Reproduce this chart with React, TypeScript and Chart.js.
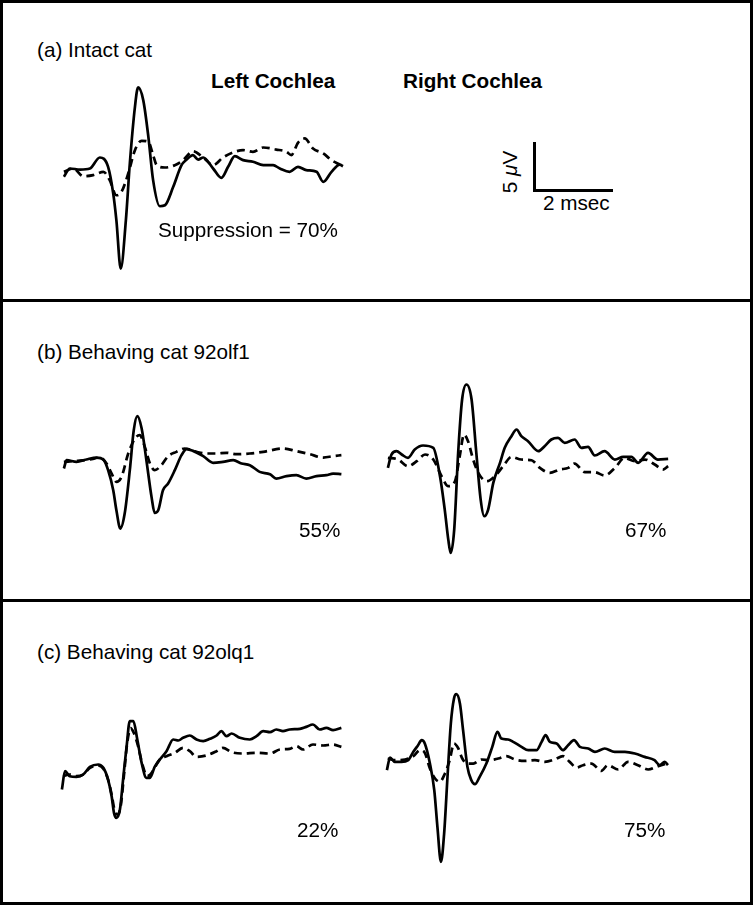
import React, { useEffect, useRef } from "react";
import { Chart, registerables } from "chart.js";

Chart.register(...registerables);

// ---- Data: time (ms) and voltage (µV) ----
// (a) Intact cat, left cochlea
const aSolidT = [0, 0.15, 0.41, 0.66, 0.91, 1.12, 1.25, 1.33, 1.44, 1.57, 1.67, 1.8, 1.88, 2.01, 2.14, 2.26, 2.43, 2.56, 2.77, 2.98, 3.11, 3.27, 3.4, 3.53, 3.78, 3.99, 4.16, 4.33, 4.54, 4.79, 5.05, 5.3, 5.47, 5.72, 5.93, 6.14, 6.4, 6.57, 6.78, 6.99, 7.07];
const aSolidV = [-0.88, -0.03, -0.14, -0.03, 1.09, 0.14, -2.59, -5.31, -10.24, -5.31, 0.48, 6.26, 8.23, 6.94, 3.2, -1.22, -3.88, -3.78, -1.9, 0.31, 0.88, 1.33, 0.88, 1.09, -0.03, -0.99, 0.14, 1.22, 0.82, 0.65, 0.31, 0.31, -0.03, -0.37, 0.14, -0.2, -0.37, -1.39, -0.37, 0.37, 0.2];
const aDashT = [0, 0.24, 0.49, 0.74, 1.0, 1.16, 1.33, 1.46, 1.63, 1.8, 1.97, 2.14, 2.26, 2.35, 2.56, 2.81, 3.02, 3.27, 3.53, 3.78, 4.03, 4.33, 4.54, 4.79, 5.05, 5.38, 5.64, 5.76, 5.93, 6.1, 6.31, 6.57, 6.78, 6.99];
const aDashV = [-0.37, -0.03, -0.82, -0.71, -0.37, -1.22, -2.76, -2.41, -0.54, 1.84, 2.79, 2.69, 1.33, 0.31, 0.07, 0.31, 0.82, 1.73, 1.09, 0.31, 1.09, 1.67, 1.84, 1.67, 2.11, 1.9, 1.67, 1.33, 2.59, 3.03, 2.01, 1.5, 0.82, 0.37];

// (b) Behaving cat 92olf1, left cochlea
const bLeftSolidT = [0, 0.07, 0.32, 0.57, 0.83, 1.0, 1.12, 1.25, 1.33, 1.43, 1.54, 1.67, 1.77, 1.86, 1.97, 2.09, 2.22, 2.3, 2.39, 2.51, 2.64, 2.81, 2.98, 3.11, 3.27, 3.53, 3.78, 4.03, 4.29, 4.5, 4.71, 4.96, 5.22, 5.38, 5.64, 5.89, 6.14, 6.4, 6.65, 6.82, 7.03];
const bLeftSolidV = [-0.85, 0, -0.17, 0.07, 0.27, 0.07, -1.02, -3.06, -5.1, -6.97, -5.44, -1.02, 3.06, 4.49, 3.23, 0, -3.74, -5.37, -5.1, -3.06, -2.38, -1.02, 0.51, 1.12, 0.95, 0.41, -0.27, -0.17, 0, -0.34, -0.51, -1.19, -1.43, -1.87, -1.63, -1.53, -1.87, -1.63, -1.53, -1.36, -1.43];
const bLeftDashT = [0, 0.32, 0.66, 0.91, 1.08, 1.21, 1.33, 1.46, 1.63, 1.8, 1.92, 2.05, 2.18, 2.3, 2.47, 2.64, 2.85, 3.06, 3.36, 3.61, 3.86, 4.12, 4.37, 4.71, 5.05, 5.55, 5.89, 6.23, 6.57, 6.82, 7.03];
const bLeftDashV = [-0.17, -0.07, 0.07, 0.27, -0.34, -1.36, -2.21, -1.7, 0.68, 2.21, 2.55, 1.36, -0.34, -1.02, -0.51, 0.41, 0.85, 1.19, 0.85, 0.68, 0.68, 0.75, 0.61, 0.68, 0.85, 1.19, 0.92, 0.61, 0.27, 0.41, 0.51];

// (b) Behaving cat 92olf1, right cochlea
const bRightSolidT = [0, 0.09, 0.22, 0.35, 0.51, 0.68, 0.89, 1.15, 1.32, 1.44, 1.53, 1.59, 1.68, 1.78, 1.88, 1.99, 2.12, 2.24, 2.35, 2.44, 2.54, 2.67, 2.84, 2.96, 3.13, 3.26, 3.38, 3.55, 3.81, 3.97, 4.14, 4.31, 4.48, 4.73, 4.9, 5.07, 5.24, 5.49, 5.75, 5.96, 6.17, 6.34, 6.59, 6.84, 7.1];
const bRightSolidV = [-1.19, 0.17, 0.51, 0.17, -0.17, 0.68, 1.09, 0.85, -2.04, -5.44, -8.5, -9.86, -7.48, 0.34, 5.78, 7.31, 5.78, 0.34, -4.42, -6.12, -5.44, -2.72, -0.68, 0.85, 2.04, 2.72, 2.04, 1.53, 0.51, 1.02, 1.7, 1.87, 1.36, 1.7, 0.85, 0.95, 0.07, 0.51, -0.34, -0.07, -0.07, -0.68, 0.34, -0.34, -0.27];
const bRightDashT = [0, 0.26, 0.51, 0.73, 0.94, 1.15, 1.36, 1.53, 1.7, 1.82, 1.93, 2.03, 2.16, 2.29, 2.5, 2.71, 2.92, 3.13, 3.38, 3.64, 3.85, 4.1, 4.35, 4.57, 4.73, 4.99, 5.24, 5.49, 5.75, 6.0, 6.25, 6.51, 6.76, 6.97, 7.1];
const bRightDashV = [-0.17, -0.34, -1.02, -0.51, 0.17, -0.34, -2.04, -3.06, -2.55, 0, 2.21, 1.53, -0.34, -1.7, -2.55, -2.04, -1.02, -0.07, -0.34, -0.41, -1.19, -1.7, -1.36, -1.19, -0.75, -1.63, -1.63, -1.97, -1.19, -0.17, -0.51, -0.34, -0.85, -1.36, -1.02];

// (c) Behaving cat 92olq1, left cochlea
const cLeftSolidT = [0, 0.08, 0.2, 0.37, 0.54, 0.71, 0.92, 1.05, 1.17, 1.26, 1.32, 1.38, 1.47, 1.55, 1.64, 1.72, 1.81, 1.91, 2.02, 2.14, 2.23, 2.35, 2.48, 2.65, 2.82, 2.95, 3.07, 3.24, 3.41, 3.58, 3.75, 3.92, 4.04, 4.17, 4.3, 4.51, 4.76, 4.93, 5.1, 5.27, 5.43, 5.6, 5.77, 6.03, 6.19, 6.36, 6.53, 6.7, 6.87, 7.08];
const cLeftSolidV = [-1.36, 0.51, 0, -0.07, 0.17, 0.95, 1.19, 0.85, -0.34, -2.04, -3.74, -4.25, -3.4, -0.34, 3.06, 5.61, 5.61, 3.74, 1.36, -0.17, -0.17, 0.95, 1.7, 2.55, 3.74, 3.64, 3.91, 4.15, 3.74, 3.57, 3.81, 4.15, 4.59, 4.08, 4.35, 3.91, 3.74, 4.08, 4.59, 4.49, 4.76, 4.59, 4.76, 4.83, 5.03, 5.27, 4.76, 4.93, 4.69, 4.93];
const cLeftDashT = [0.03, 0.2, 0.37, 0.54, 0.71, 0.92, 1.05, 1.17, 1.26, 1.34, 1.4, 1.49, 1.57, 1.65, 1.74, 1.82, 1.93, 2.04, 2.16, 2.24, 2.35, 2.48, 2.65, 2.86, 3.07, 3.24, 3.41, 3.66, 3.92, 4.08, 4.3, 4.59, 4.93, 5.27, 5.52, 5.77, 5.94, 6.11, 6.36, 6.62, 6.87, 7.08];
const cLeftDashV = [0, 0.17, 0, 0.17, 0.85, 1.09, 0.75, -0.34, -1.87, -3.57, -3.91, -3.06, 0, 3.23, 4.9, 4.42, 3.06, 1.19, 0, 0.17, 0.85, 1.7, 2.04, 2.38, 2.89, 2.55, 1.97, 2.11, 2.55, 2.89, 2.45, 2.31, 2.38, 2.31, 2.72, 2.79, 3.06, 2.72, 3.23, 3.13, 3.23, 2.99];

// (c) Behaving cat 92olq1, right cochlea
const cRightSolidT = [0, 0.08, 0.2, 0.37, 0.54, 0.67, 0.79, 0.88, 0.96, 1.09, 1.2, 1.28, 1.37, 1.45, 1.54, 1.62, 1.7, 1.76, 1.85, 1.93, 2.04, 2.14, 2.23, 2.35, 2.52, 2.67, 2.8, 2.9, 3.07, 3.2, 3.41, 3.58, 3.79, 3.92, 4.02, 4.13, 4.3, 4.46, 4.59, 4.74, 4.89, 5.1, 5.27, 5.52, 5.77, 6.03, 6.28, 6.53, 6.78, 6.91, 7.04, 7.12];
const cRightSolidV = [-1.02, 0.27, -0.17, -0.17, 0, 0.85, 1.53, 2.04, 1.7, -0.34, -3.06, -6.8, -10.37, -7.48, -1.36, 3.74, 6.29, 6.73, 5.78, 3.06, -0.68, -2.04, -2.45, -1.7, -0.34, 1.36, 2.89, 2.21, 2.11, 1.87, 1.36, 1.02, 1.02, 1.87, 2.55, 1.87, 1.7, 1.02, 1.53, 2.04, 1.36, 1.19, 0.85, 1.19, 0.85, 0.85, 0.68, 0.34, 0, -0.51, -0.17, -0.51];
const cRightDashT = [0.02, 0.2, 0.46, 0.67, 0.84, 0.96, 1.09, 1.22, 1.34, 1.47, 1.59, 1.7, 1.81, 1.91, 2.04, 2.19, 2.4, 2.61, 2.82, 3.03, 3.24, 3.49, 3.75, 4.0, 4.25, 4.46, 4.63, 4.8, 4.97, 5.18, 5.43, 5.6, 5.86, 6.11, 6.36, 6.62, 6.87, 7.08];
const cRightDashV = [0.17, 0, 0.07, 0.41, 1.02, 0.75, -0.85, -1.87, -2.21, -1.36, 0, 1.7, 1.19, 0.17, -0.34, -0.34, 0.07, 0, 0.17, 0.41, 0.07, -0.07, 0, -0.17, 0.07, 0.41, -0.17, -0.75, -0.51, -0.34, -1.09, -0.51, -0.95, -0.17, -0.51, -0.95, -0.61, -0.34];

// Axis ranges shared by all traces (ms, µV)
const X_MIN = -0.2;
const X_MAX = 7.4;
const Y_MIN = -11.5;
const Y_MAX = 9.5;

const FONT = '"Liberation Sans", Arial, Helvetica, sans-serif';
const FONT_SIZE = 20.7;

function toPoints(t: number[], v: number[]) {
  return t.map((x, i) => ({ x, y: v[i] }));
}

type TraceProps = {
  solidT: number[];
  solidV: number[];
  dashT: number[];
  dashV: number[];
  left: number;
  top: number;
};

const TRACE_W = 300;
const TRACE_H = 206;

function Trace({ solidT, solidV, dashT, dashV, left, top }: TraceProps) {
  const ref = useRef<HTMLCanvasElement | null>(null);
  useEffect(() => {
    if (!ref.current) return;
    const chart = new Chart(ref.current, {
      type: "line",
      data: {
        datasets: [
          {
            data: toPoints(solidT, solidV),
            borderColor: "#000",
            borderWidth: 2.7,
            pointRadius: 0,
            cubicInterpolationMode: "monotone",
            fill: false,
          },
          {
            data: toPoints(dashT, dashV),
            borderColor: "#000",
            borderWidth: 2.7,
            borderDash: [8, 5],
            pointRadius: 0,
            cubicInterpolationMode: "monotone",
            fill: false,
          },
        ],
      },
      options: {
        animation: false,
        responsive: false,
        maintainAspectRatio: false,
        events: [],
        layout: { padding: 0 },
        plugins: { legend: { display: false }, tooltip: { enabled: false } },
        scales: {
          x: { type: "linear", min: X_MIN, max: X_MAX, display: false },
          y: { type: "linear", min: Y_MIN, max: Y_MAX, display: false },
        },
      },
    } as any);
    return () => chart.destroy();
  }, []);
  return (
    <canvas
      ref={ref}
      width={TRACE_W}
      height={TRACE_H}
      style={{ position: "absolute", left, top, width: TRACE_W, height: TRACE_H }}
    />
  );
}

function Label({ text, left, top, bold }: { text: string; left: number; top: number; bold?: boolean }) {
  return (
    <div
      style={{
        position: "absolute",
        left,
        top,
        fontFamily: FONT,
        fontSize: FONT_SIZE,
        lineHeight: "20px",
        fontWeight: bold ? "bold" : "normal",
        whiteSpace: "nowrap",
        color: "#000",
      }}
    >
      {text}
    </div>
  );
}

export default function App() {
  return (
    <div style={{ position: "fixed", left: 0, top: 0, width: 753, height: 905, background: "#fff", overflow: "hidden" }}>
      {/* frame */}
      <div style={{ position: "absolute", left: 0, top: 0, width: 753, height: 905, boxSizing: "border-box", border: "3px solid #000" }} />
      <div style={{ position: "absolute", left: 0, top: 299, width: 753, height: 3, background: "#000" }} />
      <div style={{ position: "absolute", left: 0, top: 599, width: 753, height: 3, background: "#000" }} />

      {/* panel (a) */}
      <Label text="(a) Intact cat" left={37} top={40} />
      <Label text="Left Cochlea" left={211} top={71} bold />
      <Label text="Right Cochlea" left={403} top={71} bold />
      <Trace solidT={aSolidT} solidV={aSolidV} dashT={aDashT} dashV={aDashV} left={56} top={75} />
      <Label text="Suppression = 70%" left={158} top={220} />

      {/* scale bar */}
      <div style={{ position: "absolute", left: 533, top: 142, width: 3, height: 50, background: "#000" }} />
      <div style={{ position: "absolute", left: 533, top: 189, width: 80, height: 3, background: "#000" }} />
      <div
        style={{
          position: "absolute",
          left: 488,
          top: 162,
          width: 44,
          height: 20,
          lineHeight: "20px",
          fontFamily: FONT,
          fontSize: FONT_SIZE,
          textAlign: "center",
          whiteSpace: "nowrap",
          transform: "rotate(-90deg)",
        }}
      >
        5 <span style={{ fontStyle: "italic" }}>μ</span>V
      </div>
      <Label text="2 msec" left={543} top={193} />

      {/* panel (b) */}
      <Label text="(b) Behaving cat 92olf1" left={37} top={342} />
      <Trace solidT={bLeftSolidT} solidV={bLeftSolidV} dashT={bLeftDashT} dashV={bLeftDashV} left={56} top={367} />
      <Trace solidT={bRightSolidT} solidV={bRightSolidV} dashT={bRightDashT} dashV={bRightDashV} left={380} top={363} />
      <Label text="55%" left={299} top={520} />
      <Label text="67%" left={625} top={520} />

      {/* panel (c) */}
      <Label text="(c) Behaving cat 92olq1" left={37} top={642} />
      <Trace solidT={cLeftSolidT} solidV={cLeftSolidV} dashT={cLeftDashT} dashV={cLeftDashV} left={54} top={683} />
      <Trace solidT={cRightSolidT} solidV={cRightSolidV} dashT={cRightDashT} dashV={cRightDashV} left={379} top={667} />
      <Label text="22%" left={297} top={820} />
      <Label text="75%" left={624} top={820} />
    </div>
  );
}
